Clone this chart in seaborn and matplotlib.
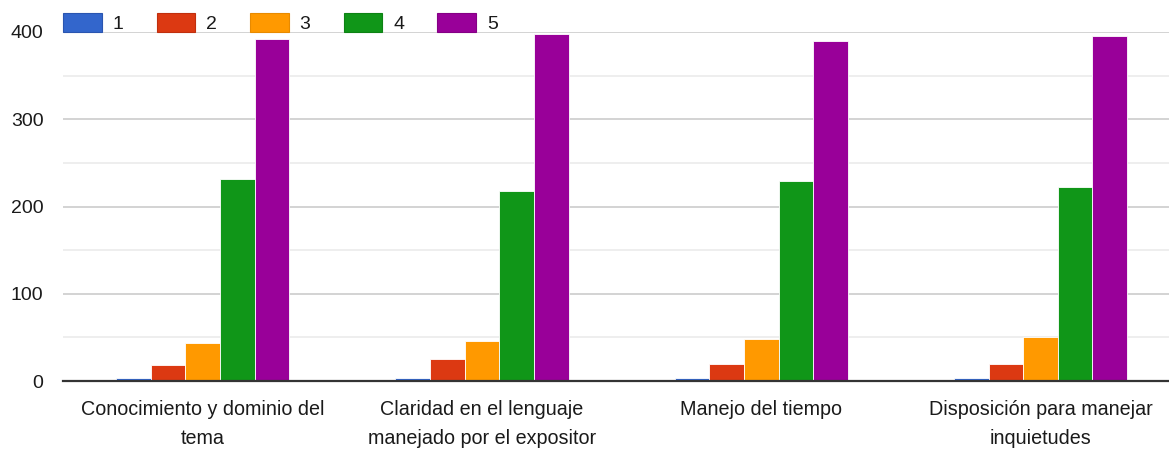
import matplotlib
matplotlib.use("Agg")
import matplotlib.pyplot as plt
import seaborn as sns
import pandas as pd
from matplotlib.patches import Patch

categories = [
    "Conocimiento y dominio del\ntema",
    "Claridad en el lenguaje\nmanejado por el expositor",
    "Manejo del tiempo",
    "Disposición para manejar\ninquietudes",
]
series_names = ["1", "2", "3", "4", "5"]
s1 = [4, 4, 4, 4]
s2 = [18, 25, 20, 20]
s3 = [43, 46, 48, 50]
s4 = [232, 218, 229, 222]
s5 = [392, 398, 390, 395]
colors = ["#3366cc", "#dc3912", "#ff9900", "#109618", "#990099"]
edge_colors = ["#2a55b0", "#c02f0e", "#e88a00", "#0d8214", "#850085"]

rows = []
for name, vals in zip(series_names, [s1, s2, s3, s4, s5]):
    for c, v in zip(categories, vals):
        rows.append({"categoria": c, "serie": name, "valor": v})
df = pd.DataFrame(rows)

sns.set_theme(style="white")
plt.rcParams["font.family"] = ["Liberation Sans", "DejaVu Sans"]

fig = plt.figure(figsize=(11.69, 4.54), dpi=100)
ax = fig.add_axes([63 / 1169, 73 / 454, 1 - 63 / 1169, (381 - 32) / 454])

sns.barplot(data=df, x="categoria", y="valor", hue="serie", order=categories,
            hue_order=series_names, palette=colors, width=0.62, saturation=1,
            edgecolor="white", linewidth=0.6, ax=ax, legend=False)

ax.set_ylim(0, 400)
ax.set_xlim(-0.5, 3.46)
ax.set_yticks([0, 100, 200, 300, 400])
ax.set_yticks([50, 150, 250, 350], minor=True)
ax.grid(axis="y", which="major", color="#cccccc", linewidth=1.2, zorder=0)
ax.grid(axis="y", which="minor", color="#ebebeb", linewidth=1.2, zorder=0)
ax.grid(axis="x", visible=False)
ax.set_axisbelow(True)
for s in ["top", "right", "left"]:
    ax.spines[s].set_visible(False)
ax.spines["bottom"].set_color("#333333")
ax.spines["bottom"].set_linewidth(1.6)
ax.tick_params(axis="both", which="both", length=0, labelsize=14, colors="#1a1a1a")
ax.tick_params(axis="y", pad=14)
ax.tick_params(axis="x", pad=14)
ax.set_xticks(range(len(categories)))
ax.set_xticklabels(categories, linespacing=1.65, fontsize=14.2)
ax.set_xlabel("")
ax.set_ylabel("")

handles = [Patch(facecolor=c, edgecolor=e, linewidth=0.8) for c, e in zip(colors, edge_colors)]
fig.legend(handles, series_names, loc="center left", ncol=5,
           bbox_to_anchor=(63 / 1169, (454 - 23) / 454), frameon=False,
           fontsize=14, handlelength=2.0, handleheight=1.1, handletextpad=0.55,
           columnspacing=1.7, borderpad=0, borderaxespad=0, labelcolor="#1a1a1a")

fig.savefig("out.png", dpi=100)
